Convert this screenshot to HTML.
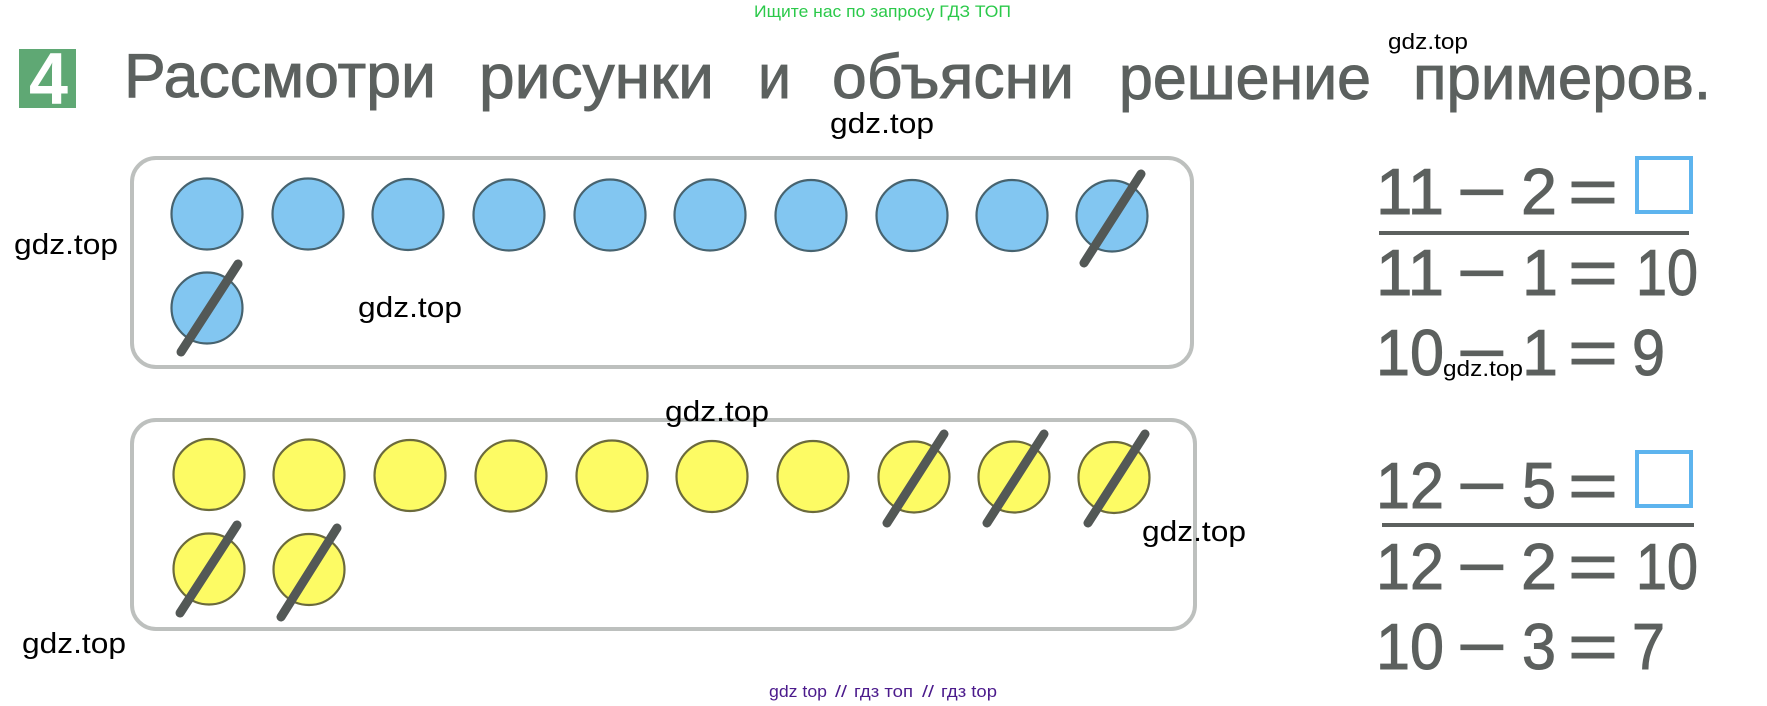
<!DOCTYPE html>
<html>
<head>
<meta charset="utf-8">
<style>
html,body{margin:0;padding:0;background:#fff;width:1767px;height:706px;overflow:hidden}
svg{display:block}
text{font-family:"Liberation Sans","Noto Sans CJK SC",sans-serif}
.t{font-size:62px;fill:#5c615f;stroke:#5c615f;stroke-width:.9}
.n{font-size:65px;fill:#5c605e;stroke:#5c605e;stroke-width:1}
.w{font-size:29px;fill:#000}
.s{font-size:22px;fill:#000}
.p{font-size:17px;fill:#4b1a8c}
.b{fill:#82c6f1;stroke:#47636f;stroke-width:2.2}
.y{fill:#fdfb64;stroke:#6b6a3c;stroke-width:2.2}
.l{stroke:#535856;stroke-width:9;stroke-linecap:round}
.r{fill:none;stroke:#bdc0be;stroke-width:4}
.q{fill:none;stroke:#5db4ee;stroke-width:4}
.u{stroke:#5c605e;stroke-width:4}
</style>
</head>
<body>
<svg width="1767" height="706" viewBox="0 0 1767 706" xmlns="http://www.w3.org/2000/svg">
<rect width="1767" height="706" fill="#fff"/>

<rect x="19" y="49" width="57" height="59" fill="#5fa874"/>
<text x="29" y="104" font-size="73" font-weight="bold" fill="#fff" textLength="39" lengthAdjust="spacingAndGlyphs">4</text>

<text class="t" x="124" y="97" textLength="312" lengthAdjust="spacingAndGlyphs">Рассмотри</text>
<text class="t" x="479" y="98" textLength="235" lengthAdjust="spacingAndGlyphs">рисунки</text>
<text class="t" x="758" y="98" textLength="33" lengthAdjust="spacingAndGlyphs">и</text>
<text class="t" x="832" y="98" textLength="242" lengthAdjust="spacingAndGlyphs">объясни</text>
<text class="t" x="1119" y="99" textLength="252" lengthAdjust="spacingAndGlyphs">решение</text>
<text class="t" x="1413" y="99" textLength="298" lengthAdjust="spacingAndGlyphs">примеров.</text>

<rect class="r" x="132" y="158" width="1060" height="209" rx="24"/>
<rect class="r" x="132" y="420" width="1063" height="209" rx="24"/>

<circle class="b" cx="207" cy="214" r="35.5"/>
<circle class="b" cx="308" cy="214" r="35.5"/>
<circle class="b" cx="408" cy="214.5" r="35.5"/>
<circle class="b" cx="509" cy="215" r="35.5"/>
<circle class="b" cx="610" cy="215" r="35.5"/>
<circle class="b" cx="710" cy="215" r="35.5"/>
<circle class="b" cx="811" cy="215.5" r="35.5"/>
<circle class="b" cx="912" cy="215.5" r="35.5"/>
<circle class="b" cx="1012" cy="215.5" r="35.5"/>
<circle class="b" cx="1112" cy="216" r="35.5"/>
<circle class="b" cx="207" cy="308" r="35.5"/>
<line class="l" x1="1084" y1="263" x2="1141" y2="174"/>
<line class="l" x1="181" y1="352" x2="238" y2="264"/>

<circle class="y" cx="209" cy="474.5" r="35.5"/>
<circle class="y" cx="309" cy="475" r="35.5"/>
<circle class="y" cx="410" cy="475.5" r="35.5"/>
<circle class="y" cx="511" cy="476" r="35.5"/>
<circle class="y" cx="612" cy="476" r="35.5"/>
<circle class="y" cx="712" cy="476.5" r="35.5"/>
<circle class="y" cx="813" cy="476.5" r="35.5"/>
<circle class="y" cx="914" cy="477" r="35.5"/>
<circle class="y" cx="1014" cy="477" r="35.5"/>
<circle class="y" cx="1114" cy="477.5" r="35.5"/>
<circle class="y" cx="209" cy="569" r="35.5"/>
<circle class="y" cx="309" cy="569.5" r="35.5"/>
<line class="l" x1="887" y1="523" x2="944" y2="434"/>
<line class="l" x1="987" y1="523" x2="1044" y2="434"/>
<line class="l" x1="1088" y1="523" x2="1145" y2="434"/>
<line class="l" x1="180" y1="613" x2="237" y2="525"/>
<line class="l" x1="281" y1="617" x2="337" y2="528"/>

<text class="n" x="1376" y="214" textLength="68" lengthAdjust="spacingAndGlyphs">11</text>
<text class="n" x="1457" y="214" textLength="50" lengthAdjust="spacingAndGlyphs">−</text>
<text class="n" x="1521" y="214" textLength="36" lengthAdjust="spacingAndGlyphs">2</text>
<text class="n" x="1568" y="214" textLength="50" lengthAdjust="spacingAndGlyphs">=</text>
<rect class="q" x="1637" y="158" width="54" height="54"/>
<line class="u" x1="1379" y1="233" x2="1689" y2="233"/>
<text class="n" x="1376" y="295" textLength="68" lengthAdjust="spacingAndGlyphs">11</text>
<text class="n" x="1457" y="295" textLength="50" lengthAdjust="spacingAndGlyphs">−</text>
<text class="n" x="1522" y="295" textLength="36" lengthAdjust="spacingAndGlyphs">1</text>
<text class="n" x="1568" y="295" textLength="50" lengthAdjust="spacingAndGlyphs">=</text>
<text class="n" x="1636" y="295" textLength="62" lengthAdjust="spacingAndGlyphs">10</text>
<text class="n" x="1376" y="375" textLength="68" lengthAdjust="spacingAndGlyphs">10</text>
<text class="n" x="1457" y="375" textLength="50" lengthAdjust="spacingAndGlyphs">−</text>
<text class="n" x="1522" y="375" textLength="36" lengthAdjust="spacingAndGlyphs">1</text>
<text class="n" x="1568" y="375" textLength="50" lengthAdjust="spacingAndGlyphs">=</text>
<text class="n" x="1632" y="375" textLength="33" lengthAdjust="spacingAndGlyphs">9</text>

<text class="n" x="1376" y="508" textLength="68" lengthAdjust="spacingAndGlyphs">12</text>
<text class="n" x="1457" y="508" textLength="50" lengthAdjust="spacingAndGlyphs">−</text>
<text class="n" x="1522" y="508" textLength="34" lengthAdjust="spacingAndGlyphs">5</text>
<text class="n" x="1568" y="508" textLength="50" lengthAdjust="spacingAndGlyphs">=</text>
<rect class="q" x="1637" y="452" width="54" height="54"/>
<line class="u" x1="1382" y1="525" x2="1694" y2="525"/>
<text class="n" x="1376" y="589" textLength="68" lengthAdjust="spacingAndGlyphs">12</text>
<text class="n" x="1457" y="589" textLength="50" lengthAdjust="spacingAndGlyphs">−</text>
<text class="n" x="1521" y="589" textLength="36" lengthAdjust="spacingAndGlyphs">2</text>
<text class="n" x="1568" y="589" textLength="50" lengthAdjust="spacingAndGlyphs">=</text>
<text class="n" x="1636" y="589" textLength="62" lengthAdjust="spacingAndGlyphs">10</text>
<text class="n" x="1376" y="669" textLength="68" lengthAdjust="spacingAndGlyphs">10</text>
<text class="n" x="1457" y="669" textLength="50" lengthAdjust="spacingAndGlyphs">−</text>
<text class="n" x="1522" y="669" textLength="34" lengthAdjust="spacingAndGlyphs">3</text>
<text class="n" x="1568" y="669" textLength="50" lengthAdjust="spacingAndGlyphs">=</text>
<text class="n" x="1632" y="669" textLength="33" lengthAdjust="spacingAndGlyphs">7</text>

<text x="754" y="17" font-size="17" fill="#2bc94a" textLength="257" lengthAdjust="spacingAndGlyphs">Ищите нас по запросу ГДЗ ТОП</text>
<text class="w" x="830" y="133" textLength="104" lengthAdjust="spacingAndGlyphs">gdz.top</text>
<text class="s" x="1388" y="49" textLength="80" lengthAdjust="spacingAndGlyphs">gdz.top</text>
<text class="w" x="14" y="254" textLength="104" lengthAdjust="spacingAndGlyphs">gdz.top</text>
<text class="w" x="358" y="317" textLength="104" lengthAdjust="spacingAndGlyphs">gdz.top</text>
<text class="s" x="1443" y="376" textLength="80" lengthAdjust="spacingAndGlyphs">gdz.top</text>
<text class="w" x="665" y="421" textLength="104" lengthAdjust="spacingAndGlyphs">gdz.top</text>
<text class="w" x="1142" y="541" textLength="104" lengthAdjust="spacingAndGlyphs">gdz.top</text>
<text class="w" x="22" y="653" textLength="104" lengthAdjust="spacingAndGlyphs">gdz.top</text>

<text class="p" x="769" y="697" textLength="58" lengthAdjust="spacingAndGlyphs">gdz top</text>
<text class="p" x="835" y="697" textLength="12" lengthAdjust="spacingAndGlyphs">//</text>
<text class="p" x="854" y="697" textLength="59" lengthAdjust="spacingAndGlyphs">гдз топ</text>
<text class="p" x="922" y="697" textLength="12" lengthAdjust="spacingAndGlyphs">//</text>
<text class="p" x="941" y="697" textLength="56" lengthAdjust="spacingAndGlyphs">гдз top</text>
</svg>
</body>
</html>
